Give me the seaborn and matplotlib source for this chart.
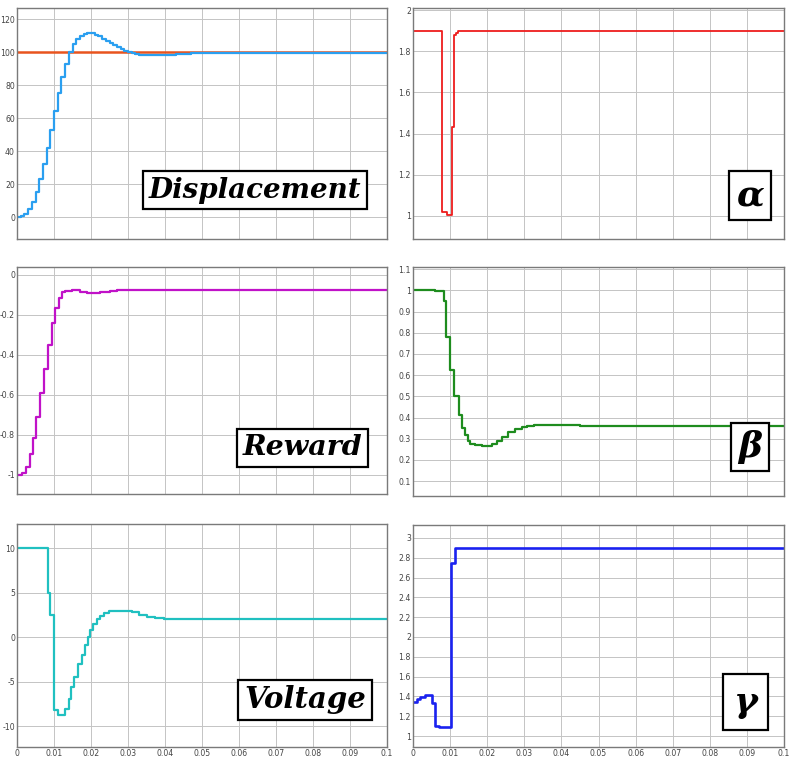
import numpy as np
import pandas as pd
import matplotlib
matplotlib.use('Agg')
import matplotlib.pyplot as plt
import seaborn as sns

# =============================
# Data (step times in s, values)
# =============================

disp_t = [0, 0.001, 0.002, 0.003, 0.004, 0.005, 0.006, 0.007, 0.008, 0.009,
          0.010, 0.011, 0.012, 0.013, 0.014, 0.015, 0.016, 0.017, 0.018, 0.019,
          0.020, 0.021, 0.022, 0.023, 0.024, 0.025, 0.026, 0.027, 0.028, 0.029,
          0.030, 0.031, 0.032, 0.033, 0.034, 0.036, 0.040, 0.043, 0.047, 0.1]
disp_v = [0, 0.5, 2, 5, 9, 15, 23, 32, 42, 53,
          64, 75, 85, 93, 100, 105, 108, 110, 111, 111.5,
          111.3, 110.5, 109.5, 108, 106.7, 105.3, 104, 102.8, 101.7, 100.8,
          100, 99.3, 98.8, 98.5, 98.4, 98.4, 98.5, 98.7, 99.6, 99.6]
ref_t = [0, 0.1]
ref_v = [100, 100]

alpha_t = [0, 0.0072, 0.0079, 0.0092, 0.0104, 0.011, 0.0117, 0.0122, 0.1]
alpha_v = [1.9, 1.897, 1.02, 1.005, 1.43, 1.88, 1.89, 1.9, 1.9]

reward_t = [0, 0.0014, 0.0023, 0.0034, 0.0042, 0.0051, 0.0063, 0.0072, 0.0084,
            0.0095, 0.0102, 0.0113, 0.0122, 0.0131, 0.0149, 0.0171, 0.0189,
            0.0207, 0.0225, 0.0252, 0.027, 0.1]
reward_v = [-1.0, -0.99, -0.958, -0.895, -0.813, -0.712, -0.592, -0.47, -0.35,
            -0.242, -0.167, -0.113, -0.087, -0.078, -0.074, -0.085, -0.09,
            -0.09, -0.085, -0.08, -0.075, -0.075]

beta_t = [0, 0.006, 0.0083, 0.009, 0.010, 0.011, 0.0123, 0.0132, 0.0141, 0.0147,
          0.0154, 0.0168, 0.0186, 0.0195, 0.0213, 0.0226, 0.024, 0.0257, 0.0275,
          0.0293, 0.0307, 0.0325, 0.036, 0.045, 0.1]
beta_v = [1.0, 0.995, 0.95, 0.78, 0.625, 0.5, 0.41, 0.35, 0.32, 0.29,
          0.275, 0.27, 0.265, 0.268, 0.275, 0.29, 0.31, 0.33, 0.345,
          0.355, 0.36, 0.365, 0.367, 0.36, 0.36]

volt_t = [0, 0.0083, 0.009, 0.0099, 0.011, 0.0131, 0.014, 0.0147, 0.0155, 0.0164,
          0.0176, 0.0185, 0.0191, 0.0198, 0.0205, 0.0216, 0.0225, 0.0234, 0.0248,
          0.0266, 0.029, 0.031, 0.033, 0.035, 0.0374, 0.0396, 0.0414, 0.043,
          0.0568, 0.1]
volt_v = [10, 5, 2.5, -8.2, -8.7, -8.0, -6.9, -5.6, -4.4, -3.0,
          -2.0, -0.9, 0, 0.8, 1.5, 2.0, 2.4, 2.7, 2.9,
          3.0, 3.0, 2.8, 2.5, 2.3, 2.15, 2.05, 2.0, 2.0,
          2.1, 2.1]

gamma_t = [0, 0.0011, 0.002, 0.0033, 0.0051, 0.006, 0.0069, 0.0103, 0.0112, 0.1]
gamma_v = [1.34, 1.37, 1.39, 1.41, 1.33, 1.10, 1.09, 2.75, 2.9, 2.9]

x_ticks = [0, 0.01, 0.02, 0.03, 0.04, 0.05, 0.06, 0.07, 0.08, 0.09, 0.1]
x_labels = ['0', '0.01', '0.02', '0.03', '0.04', '0.05', '0.06', '0.07', '0.08', '0.09', '0.1']

# =============================
# Figure
# =============================

sns.set_theme(style='whitegrid')
W, H = 800, 767
fig = plt.figure(figsize=(8, 7.67), dpi=100)
fig.patch.set_facecolor('white')


def make_ax(l, r, t, b):
    return fig.add_axes([l / W, (H - b) / H, (r - l) / W, (b - t) / H])


def style(ax, ylim, yticks, ylabels, show_x):
    ax.set_xlim(0, 0.1)
    ax.set_ylim(*ylim)
    ax.set_xticks(x_ticks)
    ax.set_xticklabels(x_labels if show_x else [])
    ax.set_yticks(yticks)
    ax.set_yticklabels(ylabels)
    ax.set_xlabel('')
    ax.set_ylabel('')
    ax.grid(True, color='#c4c4c4', lw=0.7)
    ax.set_facecolor('white')
    for s in ax.spines.values():
        s.set_color('#7a7a7a')
        s.set_linewidth(1.0)
    ax.tick_params(axis='both', direction='in', length=3, width=0.6, color='#555555',
                   labelsize=5.6, labelcolor='#444444', pad=1.5)
    if ax.get_legend() is not None:
        ax.get_legend().remove()


def label_box(ax, x, y, txt, size, pad=0.2):
    ax.text(x, y, txt, transform=ax.transAxes, ha='center', va='center',
            fontsize=size, fontweight='bold', fontstyle='italic', family='DejaVu Serif',
            color='black', zorder=10,
            bbox=dict(boxstyle='square,pad=%s' % pad, fc='white', ec='black', lw=1.6))


def steps(ax, t, v, color, lw):
    df = pd.DataFrame({'t': t, 'v': v})
    sns.lineplot(data=df, x='t', y='v', ax=ax, color=color, lw=lw,
                 drawstyle='steps-post', estimator=None, sort=False)


# Displacement
ax1 = make_ax(17, 387, 8, 239)
sns.lineplot(x=ref_t, y=ref_v, ax=ax1, color='#e8541e', lw=1.8)
steps(ax1, disp_t, disp_v, '#2a9ff0', 1.6)
style(ax1, (-13.3, 126.7), [0, 20, 40, 60, 80, 100, 120],
      ['0', '20', '40', '60', '80', '100', '120'], False)
label_box(ax1, 0.643, 0.212, 'Displacement', 20)

# alpha
ax2 = make_ax(413, 784, 8, 239)
steps(ax2, alpha_t, alpha_v, '#ee1c1c', 1.3)
style(ax2, (0.888, 2.01), [1, 1.2, 1.4, 1.6, 1.8, 2],
      ['1', '1.2', '1.4', '1.6', '1.8', '2'], False)
label_box(ax2, 0.908, 0.188, 'α', 26)

# Reward
ax3 = make_ax(17, 387, 267, 494)
steps(ax3, reward_t, reward_v, '#c012c8', 1.6)
style(ax3, (-1.095, 0.04), [-1, -0.8, -0.6, -0.4, -0.2, 0],
      ['-1', '-0.8', '-0.6', '-0.4', '-0.2', '0'], False)
label_box(ax3, 0.772, 0.203, 'Reward', 20.5)

# beta
ax4 = make_ax(413, 784, 267, 496)
steps(ax4, beta_t, beta_v, '#1e8c1e', 1.6)
bt = [0.1, 0.2, 0.3, 0.4, 0.5, 0.6, 0.7, 0.8, 0.9, 1.0, 1.1]
style(ax4, (0.03, 1.11), bt,
      ['0.1', '0.2', '0.3', '0.4', '0.5', '0.6', '0.7', '0.8', '0.9', '1', '1.1'], False)
label_box(ax4, 0.908, 0.214, 'β', 26)

# Voltage
ax5 = make_ax(17, 387, 524, 747)
steps(ax5, volt_t, volt_v, '#20c0c0', 1.6)
style(ax5, (-12.3, 12.7), [-10, -5, 0, 5, 10], ['-10', '-5', '0', '5', '10'], True)
label_box(ax5, 0.778, 0.211, 'Voltage', 21)

# gamma
ax6 = make_ax(413, 784, 525, 747)
steps(ax6, gamma_t, gamma_v, '#1a22f0', 1.9)
gt = [1, 1.2, 1.4, 1.6, 1.8, 2, 2.2, 2.4, 2.6, 2.8, 3]
style(ax6, (0.89, 3.13), gt,
      ['1', '1.2', '1.4', '1.6', '1.8', '2', '2.2', '2.4', '2.6', '2.8', '3'], True)
label_box(ax6, 0.896, 0.203, 'γ', 26, pad=0.3)

fig.savefig('out.png', dpi=100, facecolor='white')
